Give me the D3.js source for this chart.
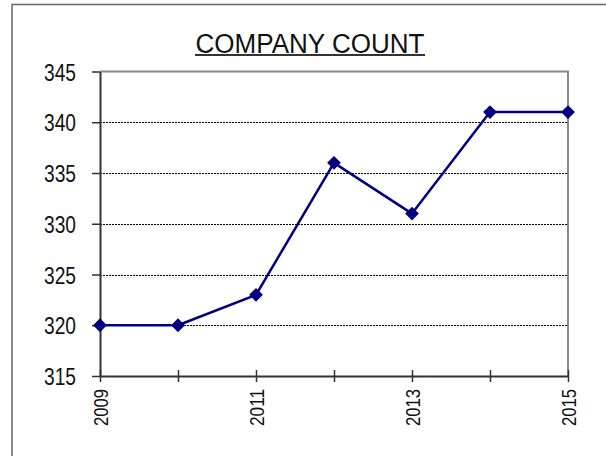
<!DOCTYPE html>
<html><head><meta charset="utf-8">
<script src="https://cdn.jsdelivr.net/npm/d3@7/dist/d3.min.js"></script>
<style>
html,body{margin:0;padding:0;background:#fff;}
svg{display:block;}
</style></head>
<body>
<svg id="chart" width="606" height="456"></svg>
<script>
const title = "COMPANY COUNT";
const years = [2009, 2010, 2011, 2012, 2013, 2014, 2015];
const counts = [320, 320, 323, 336, 331, 341, 341];
const yTicks = [315, 320, 325, 330, 335, 340, 345];
const xLabelYears = [2009, 2011, 2013, 2015];

const svg = d3.select("#chart");
const narrow = "'Liberation Sans Narrow','Arial Narrow','Liberation Sans',Arial,sans-serif";
const reg = "'Liberation Sans',Arial,sans-serif";

// outer frame
svg.append("rect").attr("x", 12).attr("y", 4.5).attr("width", 700).attr("height", 600)
  .attr("fill", "none").attr("stroke", "#666").attr("stroke-width", 1.5);

const L = 100, R = 568, T = 71.5, B = 376;
const x = d3.scalePoint().domain(years).range([L, R]);
const y = d3.scaleLinear().domain([315, 345]).range([B, T]);

// title
svg.append("text").attr("x", 310).attr("y", 53).attr("text-anchor", "middle")
  .attr("font-family", reg).attr("font-size", 27).attr("fill", "#111")
  .attr("textLength", 229).attr("lengthAdjust", "spacingAndGlyphs").text(title);
svg.append("line").attr("x1", 195).attr("x2", 425).attr("y1", 55).attr("y2", 55)
  .attr("stroke", "#333").attr("stroke-width", 2);

// gridlines
svg.append("g").selectAll("line").data(yTicks.filter(v => v > 315 && v < 345)).join("line")
  .attr("x1", L).attr("x2", R).attr("y1", d => Math.round(y(d)) + 0.5).attr("y2", d => Math.round(y(d)) + 0.5)
  .attr("stroke", "#000").attr("stroke-width", 1).attr("stroke-dasharray", "2,1");

// plot border top/right
svg.append("path").attr("d", `M${L},${T}H${R}V${B}`).attr("fill", "none")
  .attr("stroke", "#888").attr("stroke-width", 2);

// y axis
const yAxis = d3.axisLeft(y).tickValues(yTicks).tickSize(8).tickPadding(16).tickSizeOuter(0);
const gy = svg.append("g").attr("transform", `translate(${L},0)`).call(yAxis);
gy.select(".domain").attr("stroke", "#333").attr("stroke-width", 2);
gy.selectAll(".tick line").attr("stroke", "#333").attr("stroke-width", 1.5);
gy.selectAll(".tick text").attr("font-family", narrow).attr("font-size", 24).attr("fill", "#111")
  .attr("dy", "0.36em").attr("textLength", 32).attr("lengthAdjust", "spacingAndGlyphs");

// x axis
const xAxis = d3.axisBottom(x).tickSizeInner(6).tickSizeOuter(0)
  .tickFormat(d => xLabelYears.includes(d) ? String(d) : "");
const gx = svg.append("g").attr("transform", `translate(0,${B})`).call(xAxis);
gx.select(".domain").attr("stroke", "#333").attr("stroke-width", 2);
gx.selectAll(".tick line").attr("y1", -6).attr("y2", 6).attr("stroke", "#333").attr("stroke-width", 1.5);
gx.selectAll(".tick text").attr("font-family", narrow).attr("font-size", 21).attr("fill", "#111")
  .attr("transform", "rotate(-90)").attr("text-anchor", "end")
  .attr("x", -13).attr("y", 0).attr("dy", "0.36em")
  .filter(d => xLabelYears.includes(d))
  .attr("textLength", 37).attr("lengthAdjust", "spacingAndGlyphs");

// line
const line = d3.line().x((d, i) => x(years[i])).y(d => y(d));
svg.append("path").datum(counts).attr("d", line).attr("fill", "none")
  .attr("stroke", "#000080").attr("stroke-width", 2.5).attr("stroke-linejoin", "round");

// markers
svg.append("g").selectAll("path").data(counts).join("path")
  .attr("d", d3.symbol().type(d3.symbolSquare).size(95))
  .attr("transform", (d, i) => `translate(${x(years[i])},${y(d)}) rotate(45)`)
  .attr("fill", "#000080");
</script>
</body></html>
